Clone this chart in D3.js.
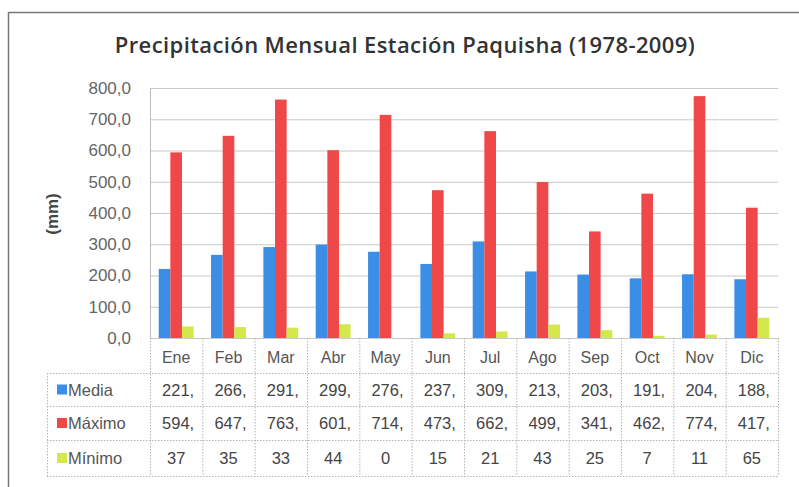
<!DOCTYPE html>
<html><head><meta charset="utf-8">
<script src="https://cdn.jsdelivr.net/npm/d3@7"></script>
<style>body{margin:0;background:#fff;} svg{display:block;}</style>
</head><body>
<svg id="c" width="799" height="487"></svg>
<script>
const months = ["Ene","Feb","Mar","Abr","May","Jun","Jul","Ago","Sep","Oct","Nov","Dic"];
const seriesNames = ["Media","Máximo","Mínimo"];
const media  = [221,266,291,299,276,237,309,213,203,191,204,188];
const maximo = [594,647,763,601,714,473,662,499,341,462,774,417];
const minimo = [37,35,33,44,0,15,21,43,25,7,11,65];
const yTicks = [0,100,200,300,400,500,600,700,800];
const title = "Precipitación Mensual Estación Paquisha (1978-2009)";
const yTitle = "(mm)";
const colors = ["#3a8ee6","#f04848","#d4e84c"];
const seriesVals = [media, maximo, minimo];
const showComma = [true, true, false];

const svg = d3.select("#c");
const font = "'Liberation Sans', Arial, sans-serif";
const ML = 150, MR = 778, MT = 88, MB = 338;

// outer frame
svg.append("line").attr("x1",8.5).attr("x2",799).attr("y1",12.5).attr("y2",12.5).attr("stroke","#777").attr("stroke-width",1.5);
svg.append("line").attr("x1",8.5).attr("x2",8.5).attr("y1",12).attr("y2",487).attr("stroke","#777").attr("stroke-width",1.5);

svg.append("text").attr("x",405).attr("y",53).attr("text-anchor","middle")
  .attr("font-family","'Open Sans', sans-serif").attr("font-size",22).attr("font-weight",600)
  .attr("letter-spacing",0.4).attr("fill","#333").text(title);

const x = d3.scaleBand().domain(months).range([ML,MR]).padding(0);
const inner = d3.scaleBand().domain(seriesNames).range([0, x.bandwidth()]).paddingInner(0).paddingOuter(0.75);
const y = d3.scaleLinear().domain([0,800]).range([MB,MT]);

// gridlines
svg.append("g").selectAll("line").data(yTicks).join("line")
  .attr("x1",ML).attr("x2",MR).attr("y1",d=>y(d)+0.5).attr("y2",d=>y(d)+0.5)
  .attr("stroke","#c8c8c8").attr("stroke-width",1);
svg.append("line").attr("x1",ML+0.5).attr("x2",ML+0.5).attr("y1",MT).attr("y2",MB).attr("stroke","#bbb");

// y axis labels
const yAxis = d3.axisLeft(y).tickValues(yTicks).tickSize(0).tickPadding(0)
  .tickFormat(d=>d3.format(".1f")(d).replace(".",","));
const ga = svg.append("g").attr("transform",`translate(131,0)`).call(yAxis);
ga.select(".domain").remove();
ga.selectAll("text").attr("font-family",font).attr("font-size",17).attr("fill","#666");

svg.append("text").attr("transform","translate(58,214) rotate(-90)").attr("text-anchor","middle")
  .attr("font-family",font).attr("font-size",17).attr("font-weight","bold").attr("fill","#444").text(yTitle);

// bars
seriesNames.forEach((s,i)=>{
  svg.append("g").selectAll("rect").data(months).join("rect")
    .attr("x",m=>x(m)+inner(s)).attr("width",inner.bandwidth())
    .attr("y",(m,j)=>y(seriesVals[i][j])).attr("height",(m,j)=>y(0)-y(seriesVals[i][j]))
    .attr("fill",colors[i]);
});

// data table
const tblLeft = 47, rowTops=[338,373,406,440,476];
const gT = svg.append("g").attr("stroke","#b4b4b4").attr("stroke-dasharray","1.5,1.5").attr("stroke-width",1);
months.concat(["end"]).forEach((m,i)=>{
  const xx = (i<12? x(m): MR)+0.5;
  gT.append("line").attr("x1",xx).attr("x2",xx).attr("y1",MB).attr("y2",rowTops[4]);
});
gT.append("line").attr("x1",tblLeft+0.5).attr("x2",tblLeft+0.5).attr("y1",rowTops[1]).attr("y2",rowTops[4]);
rowTops.slice(1).forEach(r=>{
  gT.append("line").attr("x1",tblLeft).attr("x2",MR).attr("y1",r+0.5).attr("y2",r+0.5);
});

svg.append("g").selectAll("text").data(months).join("text")
  .attr("x",m=>x(m)+x.bandwidth()/2).attr("y",363).attr("text-anchor","middle")
  .attr("font-family",font).attr("font-size",16).attr("fill","#555").text(m=>m);

seriesNames.forEach((s,i)=>{
  const cy = (rowTops[i+1]+rowTops[i+2])/2;
  svg.append("rect").attr("x",57).attr("y",cy-5).attr("width",10).attr("height",10).attr("fill",colors[i]);
  svg.append("text").attr("x",68).attr("y",cy+6).attr("font-family",font).attr("font-size",16.5)
    .attr("fill","#555").text(s);
  svg.append("g").selectAll("text").data(months).join("text")
    .attr("x",m=>x(m)+x.bandwidth()/2+(showComma[i]?2:0)).attr("y",cy+6).attr("text-anchor","middle")
    .attr("font-family",font).attr("font-size",16.5).attr("fill","#444")
    .text((m,j)=>Math.floor(seriesVals[i][j]) + (showComma[i]?",":""));
});
</script>
</body></html>
